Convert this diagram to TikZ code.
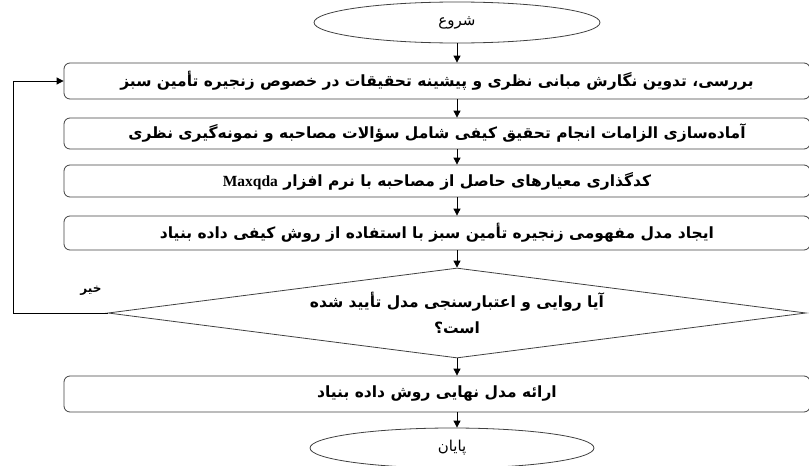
\documentclass[tikz,border=0pt]{standalone}
\usepackage{fontspec}
\usetikzlibrary{shapes.geometric,arrows.meta}
\TeXXeTstate=1
\newfontfamily\arabicfont[Script=Arabic]{DejaVu Sans}
\newfontfamily\latinserif{Liberation Serif}
\tikzset{
  txt/.style={font=\arabicfont\bfseries\fontsize{15.5}{26}\selectfont, inner sep=0pt},
  smalltxt/.style={font=\arabicfont\bfseries\fontsize{12}{14}\selectfont, inner sep=0pt},
  termtxt/.style={font=\arabicfont\fontsize{15}{18}\selectfont, inner sep=0pt},
  stepbox/.style={txt, draw=black!75, line width=0.8pt, rounded corners=6pt, minimum width=746pt},
  term/.style={termtxt, draw=black!75, line width=0.8pt, ellipse, inner sep=0pt},
  decision/.style={txt, draw=black!75, line width=0.8pt, diamond, inner sep=0pt, align=center, aspect=7.756},
  arr/.style={draw=black, line width=0.8pt, -{Triangle[length=7pt,width=7pt]}}
}
\begin{document}
\begin{tikzpicture}[x=1pt,y=-1pt]
\useasboundingbox (0,0) rectangle (809,466);
\node[term, minimum width=286pt, minimum height=41pt] (s) at (457,22.5) {\beginR شروع\endR};
\node[stepbox, minimum height=36pt] (b1) at (437,81) {\beginR بررسی، تدوین نگارش مبانی نظری و پیشینه تحقیقات در خصوص زنجیره تأمین سبز\endR};
\node[stepbox, minimum height=31pt] (b2) at (437,133.5) {\beginR آماده‌سازی الزامات انجام تحقیق کیفی شامل سؤالات مصاحبه و نمونه‌گیری نظری\endR};
\node[stepbox, minimum height=32pt] (b3) at (437,181) {\beginR کدگذاری معیارهای حاصل از مصاحبه با نرم افزار \beginL{\latinserif\bfseries Maxqda}\endL\endR};
\node[stepbox, minimum height=34pt] (b4) at (437,233) {\beginR ایجاد مدل مفهومی زنجیره تأمین سبز با استفاده از روش کیفی داده بنیاد\endR};
\node[decision, minimum width=698pt, minimum height=90pt] (d) at (457,313) {\beginR آیا روایی و اعتبارسنجی مدل تأیید شده\endR\\\beginR است؟\endR};
\node[stepbox, minimum height=36pt] (b5) at (437,394) {\beginR ارائه مدل نهایی روش داده بنیاد\endR};
\node[term, minimum width=284pt, minimum height=40pt] (e) at (452,448) {\beginR پایان\endR};
\node[smalltxt] (no) at (91,291) {\beginR خیر\endR};
\coordinate (lc) at (13,313);
\draw[arr] (s.south) -- (b1.north -| s.south);
\draw[arr] (b1.south -| s.south) -- (b2.north -| s.south);
\draw[arr] (b2.south -| s.south) -- (b3.north -| s.south);
\draw[arr] (b3.south -| s.south) -- (b4.north -| s.south);
\draw[arr] (b4.south -| d.north) -- (d.north);
\draw[arr] (d.south) -- (b5.north -| d.south);
\draw[arr] (b5.south -| d.south) -- (e.north -| d.south);
\draw[arr] (d.west) -- (lc) |- (b1.west);
\end{tikzpicture}
\end{document}
